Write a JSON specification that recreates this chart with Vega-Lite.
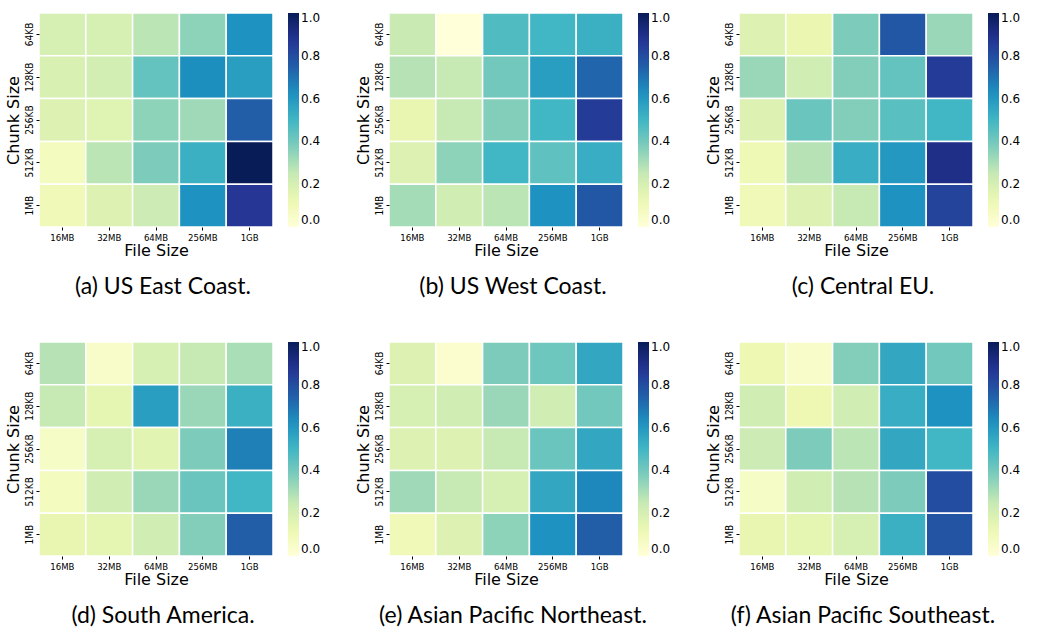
{
  "$schema": "https://vega.github.io/schema/vega-lite/v6.json",
  "background": "white",
  "padding": {"left": 5, "top": 12, "right": 5, "bottom": 5},
  "datasets": {
    "a": [
      {"chunk": "64KB", "file": "16MB", "value": 0.2}, {"chunk": "64KB", "file": "32MB", "value": 0.2}, {"chunk": "64KB", "file": "64MB", "value": 0.27}, {"chunk": "64KB", "file": "256MB", "value": 0.35}, {"chunk": "64KB", "file": "1GB", "value": 0.62},
      {"chunk": "128KB", "file": "16MB", "value": 0.19}, {"chunk": "128KB", "file": "32MB", "value": 0.21}, {"chunk": "128KB", "file": "64MB", "value": 0.43}, {"chunk": "128KB", "file": "256MB", "value": 0.63}, {"chunk": "128KB", "file": "1GB", "value": 0.58},
      {"chunk": "256KB", "file": "16MB", "value": 0.18}, {"chunk": "256KB", "file": "32MB", "value": 0.17}, {"chunk": "256KB", "file": "64MB", "value": 0.35}, {"chunk": "256KB", "file": "256MB", "value": 0.32}, {"chunk": "256KB", "file": "1GB", "value": 0.75},
      {"chunk": "512KB", "file": "16MB", "value": 0.08}, {"chunk": "512KB", "file": "32MB", "value": 0.27}, {"chunk": "512KB", "file": "64MB", "value": 0.38}, {"chunk": "512KB", "file": "256MB", "value": 0.52}, {"chunk": "512KB", "file": "1GB", "value": 1.0},
      {"chunk": "1MB", "file": "16MB", "value": 0.1}, {"chunk": "1MB", "file": "32MB", "value": 0.18}, {"chunk": "1MB", "file": "64MB", "value": 0.23}, {"chunk": "1MB", "file": "256MB", "value": 0.62}, {"chunk": "1MB", "file": "1GB", "value": 0.87}
    ],
    "b": [
      {"chunk": "64KB", "file": "16MB", "value": 0.24}, {"chunk": "64KB", "file": "32MB", "value": 0.0}, {"chunk": "64KB", "file": "64MB", "value": 0.47}, {"chunk": "64KB", "file": "256MB", "value": 0.5}, {"chunk": "64KB", "file": "1GB", "value": 0.52},
      {"chunk": "128KB", "file": "16MB", "value": 0.28}, {"chunk": "128KB", "file": "32MB", "value": 0.25}, {"chunk": "128KB", "file": "64MB", "value": 0.4}, {"chunk": "128KB", "file": "256MB", "value": 0.58}, {"chunk": "128KB", "file": "1GB", "value": 0.73},
      {"chunk": "256KB", "file": "16MB", "value": 0.14}, {"chunk": "256KB", "file": "32MB", "value": 0.25}, {"chunk": "256KB", "file": "64MB", "value": 0.37}, {"chunk": "256KB", "file": "256MB", "value": 0.5}, {"chunk": "256KB", "file": "1GB", "value": 0.85},
      {"chunk": "512KB", "file": "16MB", "value": 0.18}, {"chunk": "512KB", "file": "32MB", "value": 0.35}, {"chunk": "512KB", "file": "64MB", "value": 0.5}, {"chunk": "512KB", "file": "256MB", "value": 0.44}, {"chunk": "512KB", "file": "1GB", "value": 0.53},
      {"chunk": "1MB", "file": "16MB", "value": 0.31}, {"chunk": "1MB", "file": "32MB", "value": 0.22}, {"chunk": "1MB", "file": "64MB", "value": 0.27}, {"chunk": "1MB", "file": "256MB", "value": 0.62}, {"chunk": "1MB", "file": "1GB", "value": 0.77}
    ],
    "c": [
      {"chunk": "64KB", "file": "16MB", "value": 0.18}, {"chunk": "64KB", "file": "32MB", "value": 0.13}, {"chunk": "64KB", "file": "64MB", "value": 0.38}, {"chunk": "64KB", "file": "256MB", "value": 0.77}, {"chunk": "64KB", "file": "1GB", "value": 0.33},
      {"chunk": "128KB", "file": "16MB", "value": 0.33}, {"chunk": "128KB", "file": "32MB", "value": 0.22}, {"chunk": "128KB", "file": "64MB", "value": 0.37}, {"chunk": "128KB", "file": "256MB", "value": 0.43}, {"chunk": "128KB", "file": "1GB", "value": 0.85},
      {"chunk": "256KB", "file": "16MB", "value": 0.18}, {"chunk": "256KB", "file": "32MB", "value": 0.42}, {"chunk": "256KB", "file": "64MB", "value": 0.37}, {"chunk": "256KB", "file": "256MB", "value": 0.45}, {"chunk": "256KB", "file": "1GB", "value": 0.5},
      {"chunk": "512KB", "file": "16MB", "value": 0.11}, {"chunk": "512KB", "file": "32MB", "value": 0.28}, {"chunk": "512KB", "file": "64MB", "value": 0.53}, {"chunk": "512KB", "file": "256MB", "value": 0.6}, {"chunk": "512KB", "file": "1GB", "value": 0.9},
      {"chunk": "1MB", "file": "16MB", "value": 0.1}, {"chunk": "1MB", "file": "32MB", "value": 0.18}, {"chunk": "1MB", "file": "64MB", "value": 0.25}, {"chunk": "1MB", "file": "256MB", "value": 0.62}, {"chunk": "1MB", "file": "1GB", "value": 0.83}
    ],
    "d": [
      {"chunk": "64KB", "file": "16MB", "value": 0.28}, {"chunk": "64KB", "file": "32MB", "value": 0.05}, {"chunk": "64KB", "file": "64MB", "value": 0.2}, {"chunk": "64KB", "file": "256MB", "value": 0.25}, {"chunk": "64KB", "file": "1GB", "value": 0.3},
      {"chunk": "128KB", "file": "16MB", "value": 0.25}, {"chunk": "128KB", "file": "32MB", "value": 0.15}, {"chunk": "128KB", "file": "64MB", "value": 0.58}, {"chunk": "128KB", "file": "256MB", "value": 0.33}, {"chunk": "128KB", "file": "1GB", "value": 0.52},
      {"chunk": "256KB", "file": "16MB", "value": 0.06}, {"chunk": "256KB", "file": "32MB", "value": 0.2}, {"chunk": "256KB", "file": "64MB", "value": 0.16}, {"chunk": "256KB", "file": "256MB", "value": 0.38}, {"chunk": "256KB", "file": "1GB", "value": 0.67},
      {"chunk": "512KB", "file": "16MB", "value": 0.08}, {"chunk": "512KB", "file": "32MB", "value": 0.22}, {"chunk": "512KB", "file": "64MB", "value": 0.33}, {"chunk": "512KB", "file": "256MB", "value": 0.42}, {"chunk": "512KB", "file": "1GB", "value": 0.5},
      {"chunk": "1MB", "file": "16MB", "value": 0.14}, {"chunk": "1MB", "file": "32MB", "value": 0.15}, {"chunk": "1MB", "file": "64MB", "value": 0.22}, {"chunk": "1MB", "file": "256MB", "value": 0.37}, {"chunk": "1MB", "file": "1GB", "value": 0.75}
    ],
    "e": [
      {"chunk": "64KB", "file": "16MB", "value": 0.18}, {"chunk": "64KB", "file": "32MB", "value": 0.03}, {"chunk": "64KB", "file": "64MB", "value": 0.38}, {"chunk": "64KB", "file": "256MB", "value": 0.41}, {"chunk": "64KB", "file": "1GB", "value": 0.55},
      {"chunk": "128KB", "file": "16MB", "value": 0.2}, {"chunk": "128KB", "file": "32MB", "value": 0.22}, {"chunk": "128KB", "file": "64MB", "value": 0.33}, {"chunk": "128KB", "file": "256MB", "value": 0.22}, {"chunk": "128KB", "file": "1GB", "value": 0.4},
      {"chunk": "256KB", "file": "16MB", "value": 0.18}, {"chunk": "256KB", "file": "32MB", "value": 0.18}, {"chunk": "256KB", "file": "64MB", "value": 0.25}, {"chunk": "256KB", "file": "256MB", "value": 0.42}, {"chunk": "256KB", "file": "1GB", "value": 0.55},
      {"chunk": "512KB", "file": "16MB", "value": 0.32}, {"chunk": "512KB", "file": "32MB", "value": 0.25}, {"chunk": "512KB", "file": "64MB", "value": 0.2}, {"chunk": "512KB", "file": "256MB", "value": 0.55}, {"chunk": "512KB", "file": "1GB", "value": 0.65},
      {"chunk": "1MB", "file": "16MB", "value": 0.1}, {"chunk": "1MB", "file": "32MB", "value": 0.18}, {"chunk": "1MB", "file": "64MB", "value": 0.35}, {"chunk": "1MB", "file": "256MB", "value": 0.62}, {"chunk": "1MB", "file": "1GB", "value": 0.75}
    ],
    "f": [
      {"chunk": "64KB", "file": "16MB", "value": 0.12}, {"chunk": "64KB", "file": "32MB", "value": 0.05}, {"chunk": "64KB", "file": "64MB", "value": 0.37}, {"chunk": "64KB", "file": "256MB", "value": 0.55}, {"chunk": "64KB", "file": "1GB", "value": 0.4},
      {"chunk": "128KB", "file": "16MB", "value": 0.22}, {"chunk": "128KB", "file": "32MB", "value": 0.12}, {"chunk": "128KB", "file": "64MB", "value": 0.22}, {"chunk": "128KB", "file": "256MB", "value": 0.53}, {"chunk": "128KB", "file": "1GB", "value": 0.62},
      {"chunk": "256KB", "file": "16MB", "value": 0.23}, {"chunk": "256KB", "file": "32MB", "value": 0.38}, {"chunk": "256KB", "file": "64MB", "value": 0.27}, {"chunk": "256KB", "file": "256MB", "value": 0.55}, {"chunk": "256KB", "file": "1GB", "value": 0.5},
      {"chunk": "512KB", "file": "16MB", "value": 0.06}, {"chunk": "512KB", "file": "32MB", "value": 0.22}, {"chunk": "512KB", "file": "64MB", "value": 0.28}, {"chunk": "512KB", "file": "256MB", "value": 0.38}, {"chunk": "512KB", "file": "1GB", "value": 0.8},
      {"chunk": "1MB", "file": "16MB", "value": 0.14}, {"chunk": "1MB", "file": "32MB", "value": 0.15}, {"chunk": "1MB", "file": "64MB", "value": 0.2}, {"chunk": "1MB", "file": "256MB", "value": 0.52}, {"chunk": "1MB", "file": "1GB", "value": 0.78}
    ]
  },
  "config": {
    "view": {"stroke": null},
    "axis": {"labelFont": "DejaVu Sans Condensed, DejaVu Sans", "titleFont": "DejaVu Sans", "titleFontWeight": "normal", "titleFontSize": 16, "labelColor": "black", "titleColor": "black", "tickColor": "black", "tickSize": 3, "tickWidth": 1, "domain": false, "grid": false},
    "axisX": {"labelAngle": 0, "labelFontSize": 9.5, "labelPadding": 2, "titlePadding": 1},
    "axisY": {"labelAngle": -90, "labelAlign": "center", "labelBaseline": "bottom", "labelFontSize": 10, "labelPadding": 2, "titlePadding": 3},
    "legend": {"gradientLength": 214, "gradientThickness": 11, "offset": 15, "labelFontSize": 12, "labelFont": "DejaVu Sans", "labelColor": "black", "labelOffset": 4, "labelOverlap": false, "gradientStrokeWidth": 0, "padding": 0},
    "title": {"orient": "bottom", "font": "Lato", "fontSize": 23, "fontWeight": "normal", "color": "black", "offset": 17, "anchor": "middle", "frame": "bounds"}
  },
  "resolve": {"scale": {"color": "independent"}},
  "spacing": 42,
  "vconcat": [
    {
      "resolve": {"scale": {"color": "independent"}},
      "spacing": 34,
      "hconcat": [
        {"data": {"name": "a"}, "width": 234, "height": 214, "title": "(a) US East Coast.", "mark": {"type": "rect", "stroke": "white", "strokeWidth": 1.5},
         "encoding": {"x": {"field": "file", "type": "ordinal", "sort": ["16MB", "32MB", "64MB", "256MB", "1GB"], "title": "File Size"}, "y": {"field": "chunk", "type": "ordinal", "sort": ["64KB", "128KB", "256KB", "512KB", "1MB"], "title": "Chunk Size"}, "color": {"field": "value", "type": "quantitative", "scale": {"domain": [0, 0.125, 0.25, 0.375, 0.5, 0.625, 0.75, 0.875, 1], "range": ["#ffffd9", "#edf8b1", "#c7e9b4", "#7fcdbb", "#41b6c4", "#1d91c0", "#225ea8", "#253494", "#081d58"], "interpolate": "rgb"}, "legend": {"title": null, "values": [0, 0.2, 0.4, 0.6, 0.8, 1], "format": ".1f", "labelBaseline": "middle"}}}},
        {"data": {"name": "b"}, "width": 234, "height": 214, "title": "(b) US West Coast.", "mark": {"type": "rect", "stroke": "white", "strokeWidth": 1.5},
         "encoding": {"x": {"field": "file", "type": "ordinal", "sort": ["16MB", "32MB", "64MB", "256MB", "1GB"], "title": "File Size"}, "y": {"field": "chunk", "type": "ordinal", "sort": ["64KB", "128KB", "256KB", "512KB", "1MB"], "title": "Chunk Size"}, "color": {"field": "value", "type": "quantitative", "scale": {"domain": [0, 0.125, 0.25, 0.375, 0.5, 0.625, 0.75, 0.875, 1], "range": ["#ffffd9", "#edf8b1", "#c7e9b4", "#7fcdbb", "#41b6c4", "#1d91c0", "#225ea8", "#253494", "#081d58"], "interpolate": "rgb"}, "legend": {"title": null, "values": [0, 0.2, 0.4, 0.6, 0.8, 1], "format": ".1f", "labelBaseline": "middle"}}}},
        {"data": {"name": "c"}, "width": 234, "height": 214, "title": "(c) Central EU.", "mark": {"type": "rect", "stroke": "white", "strokeWidth": 1.5},
         "encoding": {"x": {"field": "file", "type": "ordinal", "sort": ["16MB", "32MB", "64MB", "256MB", "1GB"], "title": "File Size"}, "y": {"field": "chunk", "type": "ordinal", "sort": ["64KB", "128KB", "256KB", "512KB", "1MB"], "title": "Chunk Size"}, "color": {"field": "value", "type": "quantitative", "scale": {"domain": [0, 0.125, 0.25, 0.375, 0.5, 0.625, 0.75, 0.875, 1], "range": ["#ffffd9", "#edf8b1", "#c7e9b4", "#7fcdbb", "#41b6c4", "#1d91c0", "#225ea8", "#253494", "#081d58"], "interpolate": "rgb"}, "legend": {"title": null, "values": [0, 0.2, 0.4, 0.6, 0.8, 1], "format": ".1f", "labelBaseline": "middle"}}}}
      ]
    },
    {
      "resolve": {"scale": {"color": "independent"}},
      "spacing": 34,
      "hconcat": [
        {"data": {"name": "d"}, "width": 234, "height": 214, "title": "(d) South America.", "mark": {"type": "rect", "stroke": "white", "strokeWidth": 1.5},
         "encoding": {"x": {"field": "file", "type": "ordinal", "sort": ["16MB", "32MB", "64MB", "256MB", "1GB"], "title": "File Size"}, "y": {"field": "chunk", "type": "ordinal", "sort": ["64KB", "128KB", "256KB", "512KB", "1MB"], "title": "Chunk Size"}, "color": {"field": "value", "type": "quantitative", "scale": {"domain": [0, 0.125, 0.25, 0.375, 0.5, 0.625, 0.75, 0.875, 1], "range": ["#ffffd9", "#edf8b1", "#c7e9b4", "#7fcdbb", "#41b6c4", "#1d91c0", "#225ea8", "#253494", "#081d58"], "interpolate": "rgb"}, "legend": {"title": null, "values": [0, 0.2, 0.4, 0.6, 0.8, 1], "format": ".1f", "labelBaseline": "middle"}}}},
        {"data": {"name": "e"}, "width": 234, "height": 214, "title": "(e) Asian Pacific Northeast.", "mark": {"type": "rect", "stroke": "white", "strokeWidth": 1.5},
         "encoding": {"x": {"field": "file", "type": "ordinal", "sort": ["16MB", "32MB", "64MB", "256MB", "1GB"], "title": "File Size"}, "y": {"field": "chunk", "type": "ordinal", "sort": ["64KB", "128KB", "256KB", "512KB", "1MB"], "title": "Chunk Size"}, "color": {"field": "value", "type": "quantitative", "scale": {"domain": [0, 0.125, 0.25, 0.375, 0.5, 0.625, 0.75, 0.875, 1], "range": ["#ffffd9", "#edf8b1", "#c7e9b4", "#7fcdbb", "#41b6c4", "#1d91c0", "#225ea8", "#253494", "#081d58"], "interpolate": "rgb"}, "legend": {"title": null, "values": [0, 0.2, 0.4, 0.6, 0.8, 1], "format": ".1f", "labelBaseline": "middle"}}}},
        {"data": {"name": "f"}, "width": 234, "height": 214, "title": "(f) Asian Pacific Southeast.", "mark": {"type": "rect", "stroke": "white", "strokeWidth": 1.5},
         "encoding": {"x": {"field": "file", "type": "ordinal", "sort": ["16MB", "32MB", "64MB", "256MB", "1GB"], "title": "File Size"}, "y": {"field": "chunk", "type": "ordinal", "sort": ["64KB", "128KB", "256KB", "512KB", "1MB"], "title": "Chunk Size"}, "color": {"field": "value", "type": "quantitative", "scale": {"domain": [0, 0.125, 0.25, 0.375, 0.5, 0.625, 0.75, 0.875, 1], "range": ["#ffffd9", "#edf8b1", "#c7e9b4", "#7fcdbb", "#41b6c4", "#1d91c0", "#225ea8", "#253494", "#081d58"], "interpolate": "rgb"}, "legend": {"title": null, "values": [0, 0.2, 0.4, 0.6, 0.8, 1], "format": ".1f", "labelBaseline": "middle"}}}}
      ]
    }
  ]
}
